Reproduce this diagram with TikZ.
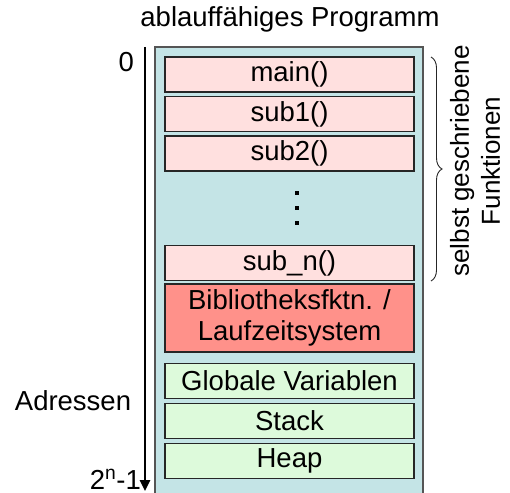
\documentclass[tikz,border=0pt]{standalone}
\usepackage{fontspec}
\setmainfont{Liberation Sans}
\usetikzlibrary{arrows.meta,decorations.pathreplacing}
\definecolor{outerblue}{RGB}{196,228,230}
\definecolor{fnpink}{RGB}{255,224,223}
\definecolor{libred}{RGB}{255,145,138}
\definecolor{datagreen}{RGB}{221,250,219}
\definecolor{edgegray}{RGB}{85,85,85}
\begin{document}
\begin{tikzpicture}[x=1pt,y=-1pt,
  txt/.style={font=\fontsize{27.5}{31}\selectfont, inner sep=0pt},
  membox/.style={draw=black!85, line width=1.4pt, minimum width=249pt, minimum height=35pt, inner sep=0pt, align=center, font=\fontsize{27.5}{31}\selectfont},
  fnbox/.style={membox, fill=fnpink},
  libbox/.style={membox, fill=libred, minimum height=68pt},
  databox/.style={membox, fill=datagreen},
  dotsq/.style={fill=black}
]
\useasboundingbox (0,0) rectangle (510,492);
% outer program area
\draw[fill=outerblue, draw=edgegray, line width=1.5pt] (155,47) rectangle (423,496);
% title
\node[txt] (title) at (290,19) {ablauffähiges Programm};
% memory boxes
\node[fnbox] (main) at (289.5,74.5) {main()};
\node[fnbox] (sub1) at (289.5,114) {sub1()};
\node[fnbox] (sub2) at (289.5,153.5) {sub2()};
\node[fnbox] (subn) at (289.5,263) {sub\_n()};
\node[libbox] (lib) at (289.5,318) {Bibliotheksfktn. /\\Laufzeitsystem};
\node[databox] (glob) at (289.5,381) {Globale Variablen};
\node[databox] (stack) at (289.5,421) {Stack};
\node[databox] (heap) at (289.5,461) {Heap};
% vertical dots
\fill[dotsq] (295,191) rectangle (299,195);
\fill[dotsq] (295,206) rectangle (299,210);
\fill[dotsq] (295,221) rectangle (299,225);
% address arrow
\coordinate (atop) at (145,47);
\coordinate (abot) at (145,491);
\draw[line width=2.6pt, -{Triangle[width=10pt,length=11pt]}] (atop) -- (abot);
\node[txt, anchor=east] (zero) at (134,62) {0};
\node[txt] (adr) at (73,401) {Adressen};
\node[txt, anchor=base east] (top) at (141,489) {2\textsuperscript{n}-1};
% brace
\coordinate (btop) at (431,57);
\coordinate (bbot) at (431,281);
\draw[line width=0.9pt, draw=black!85, decorate, decoration={brace, amplitude=11pt}] (btop) -- (bbot);
\node[txt, rotate=90, align=center, font=\fontsize{26}{31}\selectfont] (selbst) at (475,161) {selbst geschriebene\\Funktionen};
\end{tikzpicture}
\end{document}
